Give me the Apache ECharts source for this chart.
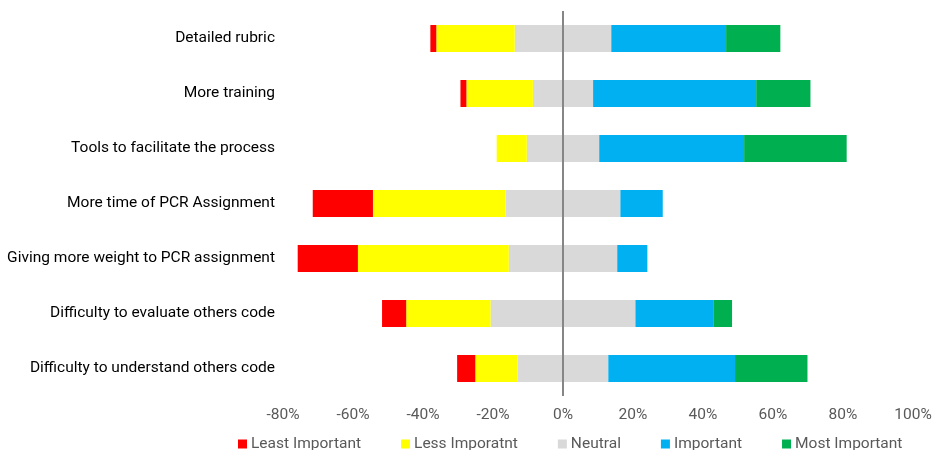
<!DOCTYPE html>
<html>
<head>
<meta charset="utf-8">
<title>PCR assignment – importance ratings</title>
<script src="https://cdn.jsdelivr.net/npm/echarts@6/dist/echarts.min.js"></script>
<style>
  html, body { margin: 0; padding: 0; background: #fff; }
  #chart { width: 935px; height: 450px; }
</style>
</head>
<body>
<div id="chart"></div>
<script>
// Survey items, listed top to bottom
const categories = [
  'Detailed rubric',
  'More training',
  'Tools to facilitate the process',
  'More time of PCR Assignment',
  'Giving more weight to PCR assignment',
  'Difficulty to evaluate others code',
  'Difficulty to understand others code'
];

// Share of respondents (%) per rating
const leastImportant = [1.7, 1.7, 0, 17.2, 17.2, 6.9, 5.2];
const lessImportant  = [22.4, 19.0, 8.6, 37.9, 43.1, 24.1, 12.1];
const neutral        = [27.6, 17.2, 20.7, 32.8, 31.0, 41.4, 25.9];
const important      = [32.8, 46.6, 41.4, 12.1, 8.6, 22.4, 36.2];
const mostImportant  = [15.5, 15.5, 29.3, 0, 0, 5.2, 20.7];

const xTicks = { min: -80, max: 100, step: 20 };
const legendNames = ['Least Important', 'Less Imporatnt', 'Neutral', 'Important', 'Most Important'];

const colors = {
  least: '#FF0000',
  less: '#FFFF00',
  neutral: '#D9D9D9',
  important: '#00B0F0',
  most: '#00B050'
};

const font = 'Roboto, "Liberation Sans", sans-serif';

// Neutral is split evenly across zero; unfavourable ratings extend left
const negHalfNeutral = neutral.map(v => -v / 2);
const posHalfNeutral = neutral.map(v => v / 2);
const negLess = lessImportant.map(v => -v);
const negLeast = leastImportant.map(v => -v);

function bar(name, data, color, extra) {
  return Object.assign({
    name: name,
    type: 'bar',
    stack: 'likert',
    stackStrategy: 'samesign',
    barWidth: 27,
    data: data,
    itemStyle: { color: color },
    emphasis: { disabled: true }
  }, extra || {});
}

const chart = echarts.init(document.getElementById('chart'), null, { renderer: 'canvas' });

chart.setOption({
  animation: false,
  textStyle: { fontFamily: font },
  grid: { left: 283, right: 22, top: 11, bottom: 54, containLabel: false },
  xAxis: {
    type: 'value',
    min: xTicks.min,
    max: xTicks.max,
    interval: xTicks.step,
    axisLine: { show: false },
    axisTick: { show: false },
    splitLine: { show: false },
    axisLabel: {
      formatter: '{value}%',
      color: '#595959',
      fontSize: 15.5,
      fontFamily: font,
      margin: 11
    }
  },
  yAxis: {
    type: 'category',
    data: categories,
    inverse: true,
    axisLine: { show: false },
    axisTick: { show: false },
    axisLabel: {
      color: '#000000',
      fontSize: 15.5,
      fontFamily: font,
      margin: 8
    }
  },
  legend: {
    data: legendNames,
    left: 233,
    top: 431,
    icon: 'rect',
    itemWidth: 9,
    itemHeight: 9,
    itemGap: 40,
    textStyle: { color: '#595959', fontSize: 15.5, fontFamily: font, padding: [0, 0, 0, -1] },
    selectedMode: false
  },
  series: [
    bar('Neutral', negHalfNeutral, colors.neutral, {
      markLine: {
        silent: true,
        symbol: 'none',
        label: { show: false },
        lineStyle: { color: '#868686', width: 2, type: 'solid' },
        data: [{ xAxis: 0 }]
      }
    }),
    bar('Neutral', posHalfNeutral, colors.neutral),
    bar('Less Imporatnt', negLess, colors.less),
    bar('Least Important', negLeast, colors.least),
    bar('Important', important, colors.important),
    bar('Most Important', mostImportant, colors.most)
  ]
});
</script>
</body>
</html>
